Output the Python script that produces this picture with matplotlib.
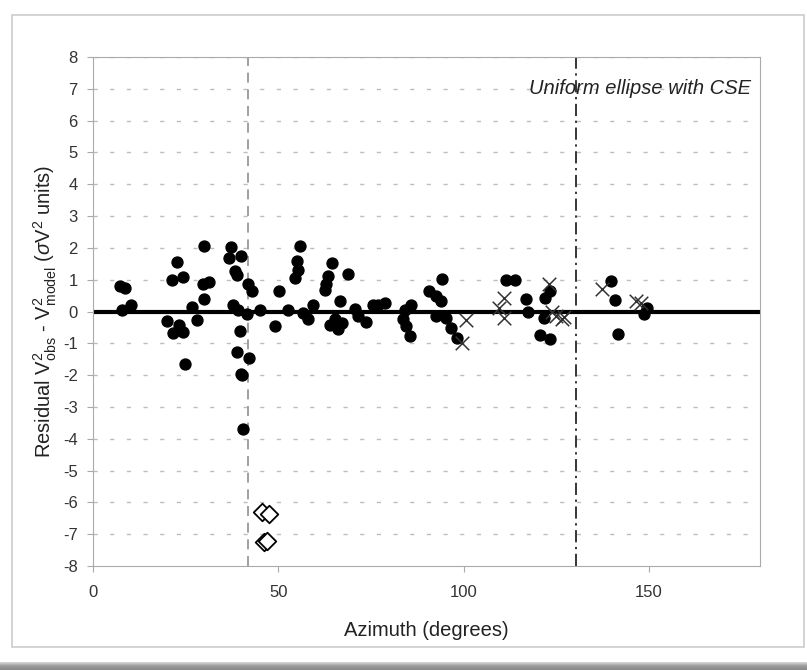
import matplotlib.pyplot as plt
import numpy as np
from matplotlib.patches import Rectangle
from matplotlib.colors import LinearSegmentedColormap

plt.rcParams['font.family'] = ['Liberation Sans', 'DejaVu Sans']
plt.rcParams['axes.unicode_minus'] = False
plt.rcParams['mathtext.fontset'] = 'custom'
plt.rcParams['mathtext.rm'] = 'Liberation Sans'
plt.rcParams['mathtext.it'] = 'Liberation Sans:italic'

# filled circles: azimuth (deg), residual
az_dots = [7.4, 8.7, 7.8, 10.3, 20.1, 21.3, 22.6, 24.2, 21.7, 23.3, 24.4, 24.9,
           26.7, 28.0, 30.0, 29.8, 31.2, 30.0, 37.2, 36.8, 39.9, 38.3, 38.8, 37.9,
           39.2, 41.7, 42.8, 41.5, 45.1, 39.7, 38.8, 42.1, 39.9, 40.3, 40.4,
           49.1, 50.3, 52.5, 55.8, 55.0, 55.4, 54.5, 56.7, 58.1, 59.3, 64.6, 63.5,
           63.0, 62.6, 68.9, 66.6, 63.9, 65.3, 66.2, 67.1, 70.7, 71.5, 73.8, 75.6,
           76.9, 78.7, 83.7, 84.6, 85.5, 85.9, 84.1, 90.8, 92.6, 94.0, 94.3, 92.6,
           95.3, 96.7, 98.2, 111.5, 113.9, 116.9, 117.5, 123.4, 122.0, 121.8,
           120.5, 123.4, 139.9, 140.8, 141.8, 149.6, 148.7]
res_dots = [0.79, 0.74, 0.04, 0.22, -0.30, 1.00, 1.55, 1.09, -0.67, -0.41, -0.65, -1.66,
            0.15, -0.28, 2.05, 0.85, 0.93, 0.40, 2.03, 1.68, 1.76, 1.26, 1.16, 0.19,
            0.06, 0.85, 0.66, -0.07, 0.06, -0.60, -1.27, -1.45, -1.95, -2.00, -3.70,
            -0.46, 0.64, 0.06, 2.07, 1.58, 1.32, 1.06, -0.04, -0.23, 0.19, 1.53, 1.13,
            0.85, 0.69, 1.18, 0.32, -0.44, -0.25, -0.56, -0.35, 0.08, -0.15, -0.33, 0.22,
            0.19, 0.27, -0.23, -0.46, -0.77, 0.22, 0.06, 0.64, 0.48, 0.32, 1.02, -0.15,
            -0.20, -0.51, -0.82, 0.99, 0.99, 0.38, -0.03, 0.66, 0.43, -0.19,
            -0.74, -0.87, 0.96, 0.35, -0.72, 0.12, -0.09]

# crosses
az_x = [99.6, 100.7, 110.8, 109.7, 110.8, 123.0, 124.0, 125.0, 126.7, 127.2,
        137.3, 146.5, 147.8]
res_x = [-0.98, -0.27, 0.43, 0.12, -0.22, 0.87, -0.03, -0.15, -0.25, -0.16,
         0.71, 0.32, 0.27]

# open diamonds
az_dia = [45.6, 47.5, 46.2, 47.0]
res_dia = [-6.3, -6.38, -7.26, -7.2]

fig = plt.figure(figsize=(8.07, 6.70), dpi=100)

# outer card and grey band at the bottom
fig.patches.append(Rectangle((12/807, 1-647/670), 792/807, 632/670, transform=fig.transFigure,
                             facecolor='none', edgecolor='#cccccc', lw=1.2, zorder=-1))
band = fig.add_axes([0, 0, 1, 8/670])
grey = LinearSegmentedColormap.from_list('band', ['#8a8a8a', '#9a9a9a', '#d8d8d8'])
band.imshow(np.linspace(0, 1, 20).reshape(-1, 1), aspect='auto', cmap=grey,
            origin='lower', extent=[0, 1, 0, 1])
band.axis('off')

ax = fig.add_axes([93/807, 1-566/670, 667/807, 509/670])
ax.set_xlim(0, 180)
ax.set_ylim(-8, 8)

for y in range(-7, 9):
    if y != 0:
        ax.axhline(y, color='#bdbdbd', lw=1, ls=(0, (3, 9)), zorder=1)
ax.axhline(0, color='black', lw=3, zorder=2)
ax.axvline(41.8, color='#909090', lw=1.2, ls=(0, (6, 4)), zorder=1)
ax.axvline(130.3, color='black', lw=1.1, ls=(0, (8, 3, 1.5, 3)), zorder=1)

ax.scatter(az_dots, res_dots, s=62, color='black', zorder=4)
ax.scatter(az_x, res_x, s=95, marker='x', color='#333333', linewidths=1.1, zorder=5)
ax.scatter(az_dia, res_dia, s=80, marker='D', facecolor='white', edgecolor='black',
           linewidths=1.3, zorder=5)

ax.text(177.5, 7.0, 'Uniform ellipse with CSE', style='italic', ha='right', va='center',
        fontsize=14.5, color='#222222')

ax.set_xticks([0, 50, 100, 150])
ax.set_yticks(range(-8, 9))
ax.tick_params(axis='both', labelsize=12, colors='#333333', color='#aaaaaa', length=4)
ax.tick_params(axis='x', pad=10)
ax.tick_params(axis='y', pad=7)
for s in ['left', 'bottom', 'right', 'top']:
    ax.spines[s].set_color('#aaaaaa')

ax.set_xlabel('Azimuth (degrees)', fontsize=14.5, color='#222222', labelpad=15)
ax.set_ylabel(r'Residual V$^2_{\rm obs}$ - V$^2_{\rm model}$ ($\sigma$V$^2$ units)',
              fontsize=14.5, color='#222222', labelpad=3)

fig.savefig('out.png', dpi=100)
